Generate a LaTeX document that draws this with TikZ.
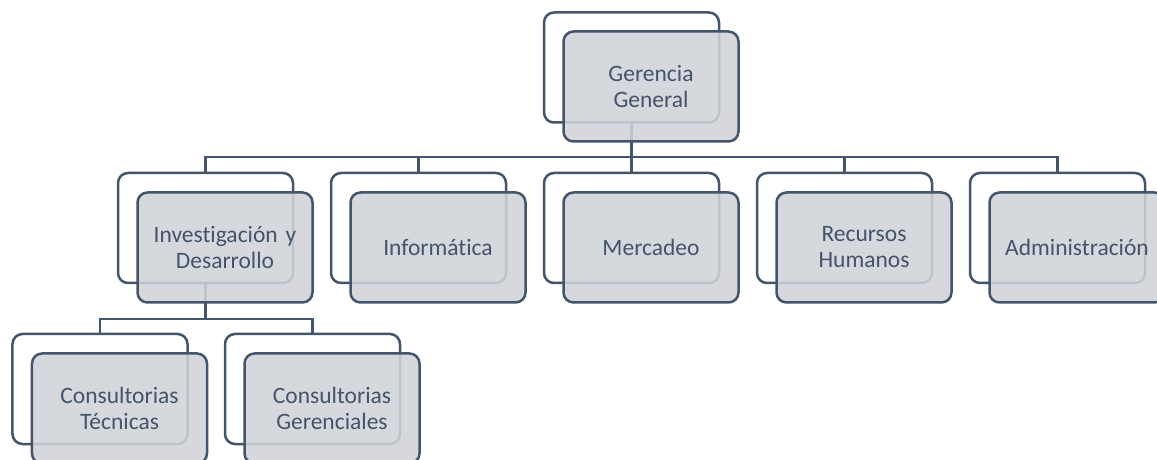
\documentclass[tikz,border=0pt]{standalone}
\usepackage{fontspec}
\setmainfont{Carlito}[Ligatures={NoCommon,NoRare,NoContextual}]
\usetikzlibrary{backgrounds}
\definecolor{slate}{HTML}{44546A}
\definecolor{boxgray}{HTML}{D0D3D8}
\begin{document}
\begin{tikzpicture}[x=1bp,y=-1bp,
  backbox/.style={draw=slate, line width=2.5bp, rounded corners=10bp, fill=white,
    minimum width=175bp, minimum height=110bp, inner sep=0pt},
  frontbox/.style={draw=slate, line width=2.5bp, rounded corners=10bp, fill=boxgray,
    fill opacity=0.88, text opacity=1, minimum width=175bp, minimum height=110bp,
    inner sep=0pt, align=center, text=slate, text width=172bp,
    font=\fontsize{23.5bp}{26bp}\selectfont},
  link/.style={draw=slate, line width=2.5bp}]
\useasboundingbox (0,0) rectangle (1157,460);
\clip (0,0) rectangle (1157,460);
\coordinate (bus1) at (0,157);
\coordinate (bus2) at (0,319);
% back boxes
\node[backbox] (gb) at (631.5,67.5) {};
\node[backbox] (ib) at (205.5,228) {};
\node[backbox] (nb) at (418.5,228) {};
\node[backbox] (mb) at (631.5,228) {};
\node[backbox] (rb) at (844.5,228) {};
\node[backbox] (ab) at (1057.5,228) {};
\node[backbox] (tb) at (100,389) {};
\node[backbox] (cb) at (312.5,389) {};
% connectors
\begin{pgfonlayer}{background}
\foreach \c in {ib,nb,mb,rb,ab}
  \draw[link] (gb.center) -- (gb.center |- bus1) -| (\c.north);
\foreach \c in {tb,cb}
  \draw[link] (ib.center) -- (ib.center |- bus2) -| (\c.north);
\end{pgfonlayer}
% front boxes
\node[frontbox] (g) at (651,86.5) {Gerencia\\General};
\node[frontbox] (i) at (225,247.5) {Investigación y\\Desarrollo};
\node[frontbox] (n) at (438,247.5) {Informática};
\node[frontbox] (m) at (651,247.5) {Mercadeo};
\node[frontbox] (r) at (864,247.5) {Recursos\\Humanos};
\node[frontbox] (a) at (1077,247.5) {Administración};
\node[frontbox] (t) at (119.5,408.5) {Consultorias\\Técnicas};
\node[frontbox] (c) at (332,408.5) {Consultorias\\Gerenciales};
\end{tikzpicture}
\end{document}
